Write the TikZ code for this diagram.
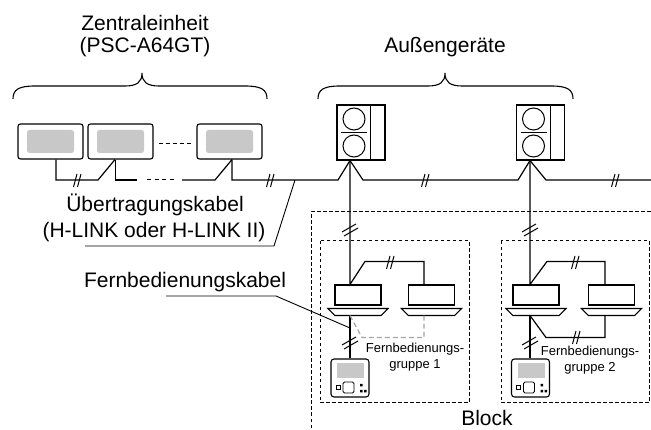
\documentclass[tikz,border=0pt]{standalone}
\usepackage{fontspec}
\setmainfont{Liberation Sans}
\definecolor{screen}{RGB}{200,200,200}
\definecolor{gwirecol}{RGB}{165,165,165}
\begin{document}
\begin{tikzpicture}[x=1pt,y=-1pt,
  wire/.style={line width=1.2pt, line join=miter},
  thinl/.style={line width=0.9pt},
  gwire/.style={line width=1.2pt, gwirecol, dash pattern=on 5pt off 3pt},
  dbox/.style={line width=1pt, dash pattern=on 3.5pt off 2.5pt},
  lab/.style={inner sep=0pt, font=\fontsize{21}{25}\selectfont},
  smalllab/.style={inner sep=0pt, align=center, font=\fontsize{13}{16}\selectfont},
  cunit/.style={draw, line width=1.1pt, rounded corners=2.5pt, minimum width=65pt,
    minimum height=35pt, inner sep=0pt,
    path picture={\fill[screen] ([shift={(9pt,-6pt)}]path picture bounding box.north west)
      rectangle ([shift={(-9pt,6pt)}]path picture bounding box.south east);}},
  ounit/.style={draw, line width=1.1pt, minimum width=48pt, minimum height=55pt, inner sep=0pt},
  ibox/.style={draw, line width=1.1pt, minimum width=46pt, minimum height=20pt, inner sep=0pt},
  rcbox/.style={draw, line width=1.1pt, rounded corners=3pt, minimum width=38pt,
    minimum height=38pt, inner sep=0pt},
  hcut/.pic={\draw[line width=1pt] (-3.5,7) -- (0,-6); \draw[line width=1pt] (0.5,7) -- (4,-6);},
  vcut/.pic={\draw[line width=1pt] (-8,2) -- (6,-6); \draw[line width=1pt] (-6,6) -- (8,-2);},
  panel/.pic={\draw[line width=1.1pt] (-30,3) -- (30,3) -- (23,10) -- (-23,10) -- cycle;},
  fan/.pic={\draw[line width=1pt] (0,-13.5) circle (11pt) (0,13.5) circle (11pt);
    \draw[line width=1pt] (-13,0) -- (13,0);},
  rcdetail/.pic={
    \fill[screen] (-13,-15) rectangle (14,0);
    \draw[line width=0.9pt, rounded corners=1.5pt] (-7,4) rectangle (4,15);
    \draw[line width=0.8pt] (-14,7) rectangle (-10,11);
    \fill (10,6) rectangle (12.5,8.5) (10,12) rectangle (12.5,14.5) (14,12) rectangle (16.5,14.5);}
]
\useasboundingbox (0,0) rectangle (651,430);
\clip (0,0) rectangle (651,430);

% headings and braces
\node[lab] (zt) at (145,23) {Zentraleinheit};
\node[lab] (zm) at (145,47) {(PSC-A64GT)};
\node[lab] (au) at (445,47) {Außengeräte};
\draw[line width=1.1pt] (13,99) .. controls (13,90) and (18,86) .. (35,86) -- (125,86)
  .. controls (137,86) and (142,82) .. (142,73) .. controls (142,82) and (147,86) .. (159,86)
  -- (245,86) .. controls (262,86) and (267,90) .. (267,99);
\draw[line width=1.1pt] (318,99) .. controls (318,90) and (323,86) .. (340,86) -- (428,86)
  .. controls (440,86) and (445,82) .. (445,73) .. controls (445,82) and (450,86) .. (462,86)
  -- (551,86) .. controls (568,86) and (573,90) .. (573,99);

% central units
\node[cunit] (c1) at (50.5,141.5) {};
\node[cunit] (c2) at (120.5,141.5) {};
\node[cunit] (c3) at (229.5,141.5) {};
\draw[line width=1pt, dash pattern=on 4pt off 3pt] ([shift={(5pt,-2.5pt)}]c2.east) -- ([shift={(-4pt,-2.5pt)}]c3.west);

% outdoor units
\node[ounit] (o1) at (361,132.5) {};
\node[ounit] (o2) at (540.5,132.5) {};
\draw[line width=1.1pt] ([xshift=-15pt]o1.north east) -- ([xshift=-15pt]o1.south east);
\draw[line width=1.1pt] ([xshift=-15pt]o2.north east) -- ([xshift=-15pt]o2.south east);
\path ([xshift=-7pt]o1.center) pic {fan};
\path ([xshift=-7pt]o2.center) pic {fan};
\coordinate (a1) at ([xshift=-11pt]o1.south);
\coordinate (a2) at ([xshift=-10.5pt]o2.south);

% transmission line
\draw[wire] ([xshift=5.5pt]c1.south) |- (98,180) -- ([xshift=-5.5pt]c2.south);
\draw[wire] ([xshift=-5pt]c2.south) |- (137,180);
\draw[line width=1pt, dash pattern=on 4pt off 3.5pt] (147,180) -- (175,180);
\draw[wire] (182,180) -- (215,180) -- ([xshift=2.5pt]c3.south);
\draw[wire] ([xshift=2.5pt]c3.south) |- (338,180) -- (a1) -- (363,180) -- (518,180)
  -- (a2) -- (546,180) -- (651,180);
\coordinate (lt) at (295,180);

% block and remote control groups
\draw[dbox] (311,440) -- (311,212) -- (660,212);
\draw[dbox] (320,241) rectangle (469,403);
\draw[dbox] (501,241) rectangle (649,403);

% indoor units
\node[ibox] (i1a) at (358,295) {};
\node[ibox] (i1b) at (431.5,295) {};
\node[ibox] (i2a) at (536,295) {};
\node[ibox] (i2b) at (611.5,295) {};
\foreach \u in {i1a,i1b,i2a,i2b} \path (\u.south) pic {panel};

% remote controllers
\node[rcbox] (r1) at (350,378) {};
\node[rcbox] (r2) at (530.5,378) {};
\path (r1.center) pic {rcdetail};
\path (r2.center) pic {rcdetail};

% group 1 wiring
\coordinate (p1a) at ([shift={(-8pt,-10pt)}]i1a.south);
\draw[wire] (a1) -- (a1 |- i1a.north) -- ++(15,-23) -| ([xshift=-7.5pt]i1b.north);
\draw[wire] (p1a) -- (p1a |- r1.north);
\draw[gwire] (p1a) -- ++(12,22) -| ([shift={(-7.5pt,-10pt)}]i1b.south);

% group 2 wiring
\coordinate (p2a) at ([shift={(-6pt,-10pt)}]i2a.south);
\draw[wire] (a2) -- (a2 |- i2a.north) -- ++(17,-23) -| ([xshift=-6.5pt]i2b.north);
\draw[wire] (p2a) -- (p2a |- r2.north);
\draw[wire] (p2a) -- ++(16,22) -| ([shift={(-6.5pt,-10pt)}]i2b.south);

% cut marks
\foreach \p in {(77,180),(270,180),(425,180),(615,180),(390,262),(575,262),(576,337)}
  \path \p pic {hcut};
\foreach \p in {(350,230),(530,230),(350,343),(530,343)}
  \path \p pic {vcut};

% labels and leaders
\node[lab] (ue) at (155,205) {Übertragungskabel};
\node[lab] (hl) at (154,232) {(H-LINK oder H-LINK II)};
\draw[thinl] (lt) -- (274,246) -- (85,246);
\node[lab] (fk) at (185,282) {Fernbedienungskabel};
\coordinate (fe) at (350,328);
\draw[thinl] (166,296) -- (276,296) -- (fe);
\node[smalllab] (g1) at (415,357) {Fernbedienungs-\\gruppe 1};
\node[smalllab] (g2) at (590,360) {Fernbedienungs-\\gruppe 2};
\node[lab] (bl) at (487,418) {Block};
\end{tikzpicture}
\end{document}
